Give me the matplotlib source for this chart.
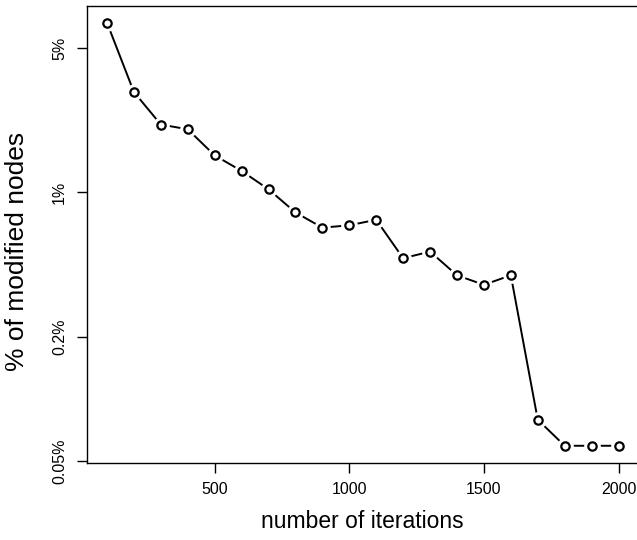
import numpy as np
import matplotlib
matplotlib.use("Agg")
import matplotlib.pyplot as plt
from matplotlib.ticker import FixedLocator, NullLocator

plt.rcParams['font.family'] = ['Liberation Sans', 'DejaVu Sans']

# data (percent of modified nodes)
iterations = [100, 200, 300, 400, 500, 600, 700, 800, 900, 1000,
              1100, 1200, 1300, 1400, 1500, 1600, 1700, 1800, 1900, 2000]
modified = [6.63, 3.06, 2.13, 2.02, 1.51, 1.27, 1.035, 0.80, 0.675, 0.693,
            0.737, 0.48, 0.517, 0.397, 0.357, 0.397, 0.0794, 0.0594, 0.0594, 0.0594]
ytick_vals = [0.05, 0.2, 1, 5]
ytick_labels = ["0.05%", "0.2%", "1%", "5%"]
xtick_vals = [500, 1000, 1500, 2000]

fig = plt.figure(figsize=(6.37, 5.4), dpi=100)
ax = fig.add_axes([86.5/637, 77.3/540, (639-86.5)/637, (462.7-5.7)/540])

ax.plot(iterations, modified, color='black', lw=1.4, zorder=1)
# white halo so line stops short of circles (like R type="b")
ax.plot(iterations, modified, ls='none', marker='o', ms=11, mfc='white', mec='white', zorder=2)
ax.plot(iterations, modified, ls='none', marker='o', ms=6, mfc='white', mec='black', mew=1.6, zorder=3)

ax.set_yscale('log')
# R style 4% padding
lo, hi = np.log10(min(modified)), np.log10(max(modified))
pad = (hi - lo) * 0.04
ax.set_ylim(10**(lo - pad), 10**(hi + pad))
xpad = (max(iterations) - min(iterations)) * 0.04
ax.set_xlim(min(iterations) - xpad, max(iterations) + xpad)

ax.yaxis.set_major_locator(FixedLocator(ytick_vals))
ax.yaxis.set_minor_locator(NullLocator())
ax.set_yticklabels(ytick_labels, rotation=90, va='center', fontsize=11.5)
ax.set_xticks(xtick_vals)
ax.set_xticklabels([str(v) for v in xtick_vals], fontsize=11.5)
ax.tick_params(length=7, width=1, pad=7)

for s in ax.spines.values():
    s.set_linewidth(1)

ax.set_xlabel("number of iterations", fontsize=16.5, labelpad=9)
ax.set_ylabel("% of modified nodes", fontsize=19)
ax.yaxis.set_label_coords(-0.104, 0.463)

fig.savefig("out.png", dpi=100)
